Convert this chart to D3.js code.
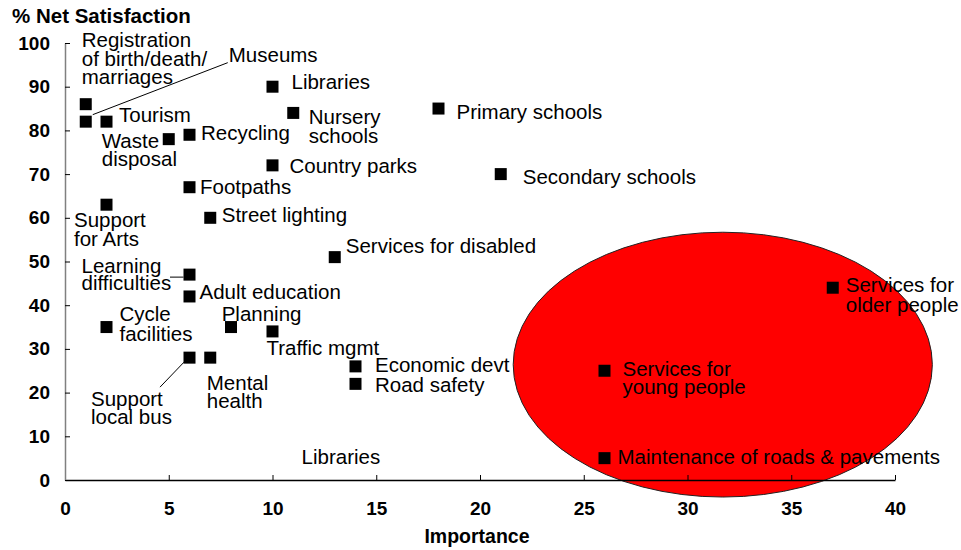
<!DOCTYPE html>
<html>
<head>
<meta charset="utf-8">
<script src="https://cdn.jsdelivr.net/npm/d3@7"></script>
<style>
  html, body { margin: 0; padding: 0; background: #fff; }
  svg { display: block; font-family: "Liberation Sans", Arial, sans-serif; }
</style>
</head>
<body>
<svg id="chart" width="961" height="550"></svg>
<script>
// Council services: importance vs. % net satisfaction
const services = [
  "Registration of birth/death/ marriages", "Museums", "Tourism", "Waste disposal",
  "Recycling", "Libraries", "Nursery schools", "Primary schools", "Country parks",
  "Footpaths", "Secondary schools", "Support for Arts", "Street lighting",
  "Services for disabled", "Learning difficulties", "Adult education",
  "Services for older people", "Cycle facilities", "Planning", "Traffic mgmt",
  "Support local bus", "Mental health", "Economic devt", "Road safety",
  "Services for young people", "Maintenance of roads & pavements"
];
const importance = [1, 1, 2, 5, 6, 10, 11, 18, 10, 6, 21, 2, 7, 13, 6, 6, 37, 2, 8, 10, 6, 7, 14, 14, 26, 26];
const satisfaction = [86, 82, 82, 78, 79, 90, 84, 85, 72, 67, 70, 63, 60, 51, 47, 42, 44, 35, 35, 34, 28, 28, 26, 22, 25, 5];

// Label text lines for each service
const labelLines = [
  ["Registration", "of birth/death/", "marriages"], ["Museums"], ["Tourism"], ["Waste", "disposal"],
  ["Recycling"], ["Libraries"], ["Nursery", "schools"], ["Primary schools"], ["Country parks"],
  ["Footpaths"], ["Secondary schools"], ["Support", "for Arts"], ["Street lighting"],
  ["Services for disabled"], ["Learning", "difficulties"], ["Adult education"],
  ["Services for", "older people"], ["Cycle", "facilities"], ["Planning"], ["Traffic mgmt"],
  ["Support", "local bus"], ["Mental", "health"], ["Economic devt"], ["Road safety"],
  ["Services for", "young people"], ["Maintenance of roads & pavements"]
];

// Axis ticks
const xTicks = [0, 5, 10, 15, 20, 25, 30, 35, 40];
const yTicks = [0, 10, 20, 30, 40, 50, 60, 70, 80, 90, 100];

// Priority zone, in data units (centre and radii)
const zone = { cx: 31.7, cy: 26.4, rx: 10.1, ry: 30.3 };

// Free-standing text annotation
const looseLabels = [{ text: "Libraries", x: 11.4, y: 3.6 }];

// Label placement: offset of first baseline from marker centre (px), line height
const labelLayout = [
  { dx: -4, dy: -57, lh: 18.5 }, { dx: 143, dy: -60 }, { dx: 12.5, dy: 0 }, { dx: -67, dy: 8.5, lh: 18 },
  { dx: 11.5, dy: 5 }, { dx: 19, dy: 2.6 }, { dx: 15.5, dy: 11, lh: 19.3 }, { dx: 18, dy: 10 }, { dx: 17, dy: 8 },
  { dx: 10.5, dy: 7 }, { dx: 22, dy: 10 }, { dx: -32.5, dy: 22, lh: 19.5 }, { dx: 11.5, dy: 4 },
  { dx: 11, dy: -4 }, { dx: -108, dy: -1.8, lh: 17 }, { dx: 10, dy: 2.5 },
  { dx: 13, dy: 4, lh: 20 }, { dx: 13, dy: -6, lh: 20 }, { dx: -9.3, dy: -6 }, { dx: -6, dy: 23.6 },
  { dx: -98.5, dy: 48, lh: 18 }, { dx: -3.5, dy: 32.4, lh: 18.3 }, { dx: 19.5, dy: 5.6 }, { dx: 19.5, dy: 8.4 },
  { dx: 18, dy: 5, lh: 18 }, { dx: 13, dy: 6 }
];

// Leader lines: label anchor offset and marker-end offset from marker centre (px)
const leaders = [
  { i: 1, x1: 142, y1: -59, x2: 7, y2: -7 },
  { i: 14, x1: -19.5, y1: 2.5, x2: -6, y2: 2.5 },
  { i: 20, x1: -29.5, y1: 29.5, x2: -5.5, y2: 4.5 }
];

const svg = d3.select("#chart");
const x = d3.scaleLinear().domain([0, 40]).range([65, 895]);
const y = d3.scaleLinear().domain([0, 100]).range([480, 43]);

// Priority zone ellipse
svg.append("ellipse")
  .attr("cx", x(zone.cx)).attr("cy", y(zone.cy))
  .attr("rx", x(zone.rx) - x(0)).attr("ry", y(0) - y(zone.ry))
  .attr("fill", "#ff0000").attr("stroke", "#222").attr("stroke-width", 1);

// X axis (ticks pointing inward)
const gx = svg.append("g").attr("transform", `translate(0,${y(0)})`)
  .call(d3.axisBottom(x).tickValues(xTicks).tickSizeInner(-5).tickSizeOuter(0).tickPadding(22));
gx.select(".domain").attr("stroke", "#000").attr("stroke-width", 1.5);
gx.selectAll(".tick line").attr("stroke", "#000");
gx.selectAll(".tick text").attr("font-size", 19).attr("font-weight", "bold")
  .attr("font-family", "Liberation Sans, Arial, sans-serif").attr("fill", "#000");

// Y axis (ticks pointing inward)
const gy = svg.append("g").attr("transform", `translate(${x(0)},0)`)
  .call(d3.axisLeft(y).tickValues(yTicks).tickSizeInner(-5).tickSizeOuter(0).tickPadding(15));
gy.select(".domain").attr("stroke", "#808080").attr("stroke-width", 1.5);
gy.selectAll(".tick line").attr("stroke", "#000");
gy.selectAll(".tick text").attr("font-size", 19).attr("font-weight", "bold")
  .attr("font-family", "Liberation Sans, Arial, sans-serif").attr("fill", "#000");

// Axis titles
svg.append("text").attr("x", 12).attr("y", 23)
  .attr("font-size", 20.5).attr("font-weight", "bold").text("% Net Satisfaction");
svg.append("text").attr("x", (x(0) + x(40)) / 2 - 3).attr("y", 543)
  .attr("text-anchor", "middle").attr("font-size", 19.5).attr("font-weight", "bold").text("Importance");

const points = services.map((s, i) => ({
  name: s, imp: importance[i], sat: satisfaction[i], lines: labelLines[i], layout: labelLayout[i]
}));

// Leader lines
svg.append("g").selectAll("line").data(leaders).join("line")
  .attr("x1", d => x(importance[d.i]) + d.x1).attr("y1", d => y(satisfaction[d.i]) + d.y1)
  .attr("x2", d => x(importance[d.i]) + d.x2).attr("y2", d => y(satisfaction[d.i]) + d.y2)
  .attr("stroke", "#000").attr("stroke-width", 1);

// Square markers
const size = 12;
svg.append("g").selectAll("rect").data(points).join("rect")
  .attr("x", d => x(d.imp) - size / 2).attr("y", d => y(d.sat) - size / 2)
  .attr("width", size).attr("height", size).attr("fill", "#000");

// Point labels
const lbl = svg.append("g").attr("font-size", 20.5).attr("fill", "#000");
lbl.selectAll("text").data(points).join("text")
  .attr("x", d => x(d.imp) + d.layout.dx)
  .attr("y", d => y(d.sat) + d.layout.dy)
  .each(function (d) {
    const t = d3.select(this);
    d.lines.forEach((line, k) => {
      t.append("tspan").attr("x", x(d.imp) + d.layout.dx)
        .attr("dy", k === 0 ? 0 : (d.layout.lh || 20)).text(line);
    });
  });

lbl.selectAll("text.loose").data(looseLabels).join("text").attr("class", "loose")
  .attr("x", d => x(d.x)).attr("y", d => y(d.y)).text(d => d.text);
</script>
</body>
</html>
